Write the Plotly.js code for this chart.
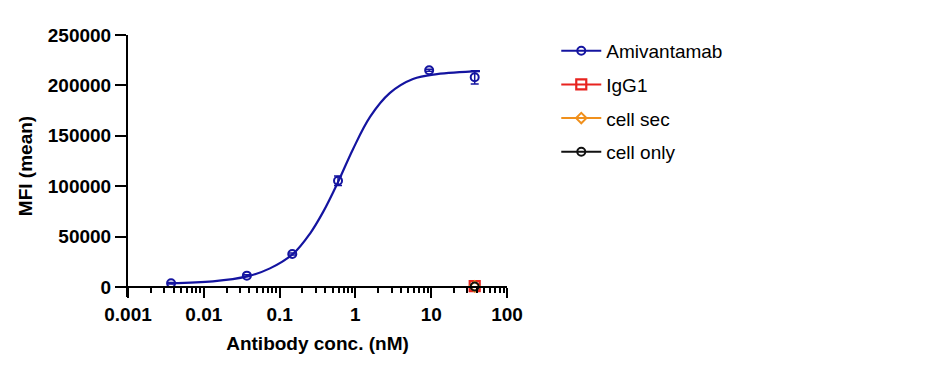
<!DOCTYPE html>
<html><head><meta charset="utf-8">
<script src="https://cdn.plot.ly/plotly-3.0.1.min.js"></script>
<style>html,body{margin:0;padding:0;background:#fff;overflow:hidden}</style>
</head><body>
<div id="chart" style="width:943px;height:366px"></div>
<script>
// ---- data ----
const amiConc = [0.0037, 0.037, 0.147, 0.59, 9.4, 37.5];
const amiMFI  = [3700, 11200, 32700, 105400, 215000, 208000];
const amiErr  = [800, 900, 1000, 4800, 1000, 6600];

// fitted curve
const fitConc = [0.0037, 0.0132, 0.0372, 0.0746, 0.150, 0.252, 0.374, 0.589, 0.929, 1.56, 2.86, 5.75, 11.9, 44];
const fitMFI  = [3700, 5500, 10400, 18400, 32700, 53000, 74200, 104000, 136700, 168700, 192500, 206300, 211100, 214100];

const igg1Conc = [37.5];     const igg1MFI = [700];
const cellSecConc = [37.5];  const cellSecMFI = [500];
const cellOnlyConc = [37.5]; const cellOnlyMFI = [400];

const seriesNames = ['Amivantamab', 'IgG1', 'cell sec', 'cell only'];
const xTickVals = [0.001, 0.01, 0.1, 1, 10, 100];
const xTickText = ['0.001', '0.01', '0.1', '1', '10', '100'];
const yTickVals = [0, 50000, 100000, 150000, 200000, 250000];
const yTickText = ['0', '50000', '100000', '150000', '200000', '250000'];

// ---- styling ----
const BLUE = '#1414a0', RED = '#e8231f', ORANGE = '#f0901c', BLACK = '#111111';
const FONT = 'Arial, "Liberation Sans", sans-serif';

// interleave nulls so the series keeps a legend line but draws no connecting segments
function gap(arr) { const o = []; arr.forEach((v, i) => { o.push(v); if (i < arr.length - 1) o.push(null); }); return o; }

const traces = [
  {
    x: fitConc, y: fitMFI, type: 'scatter', mode: 'lines', showlegend: false,
    line: { color: BLUE, width: 2.2, shape: 'spline', smoothing: 1 }, hoverinfo: 'skip'
  },
  {
    x: gap(amiConc), y: gap(amiMFI), type: 'scatter', mode: 'lines+markers', name: seriesNames[0],
    legendgroup: 'a', connectgaps: false,
    line: { color: BLUE, width: 2 },
    marker: { symbol: 'circle-open', size: 8, color: BLUE, line: { width: 2, color: BLUE } },
    error_y: { type: 'data', array: gap(amiErr), visible: true, color: BLUE, thickness: 1.5, width: 4 }
  },
  {
    x: igg1Conc, y: igg1MFI, type: 'scatter', mode: 'lines+markers', name: seriesNames[1], legendgroup: 'b',
    line: { color: RED, width: 2 },
    marker: { symbol: 'square-open', size: 10, color: RED, line: { width: 2.2, color: RED } }
  },
  {
    x: cellSecConc, y: cellSecMFI, type: 'scatter', mode: 'lines+markers', name: seriesNames[2], legendgroup: 'c',
    line: { color: ORANGE, width: 2 },
    marker: { symbol: 'diamond-open', size: 8, color: ORANGE, line: { width: 2, color: ORANGE } }
  },
  {
    x: cellOnlyConc, y: cellOnlyMFI, type: 'scatter', mode: 'lines+markers', name: seriesNames[3], legendgroup: 'd',
    line: { color: BLACK, width: 2 },
    marker: { symbol: 'circle-open', size: 8, color: BLACK, line: { width: 2, color: BLACK } }
  }
];

const layout = {
  width: 943, height: 366,
  margin: { l: 128, r: 436, t: 35, b: 69, pad: 0 },
  paper_bgcolor: '#fff', plot_bgcolor: '#fff',
  font: { family: FONT, color: '#000' },
  showlegend: true,
  legend: {
    x: 1.13, xanchor: 'left', y: 1.012, yanchor: 'top',
    font: { family: FONT, size: 19, color: '#000' },
    traceorder: 'grouped', tracegroupgap: 6, itemwidth: 40, bgcolor: 'rgba(0,0,0,0)'
  },
  xaxis: {
    type: 'log', range: [-3, 2], anchor: 'free', position: 10000 / 260000,
    tickmode: 'array', tickvals: xTickVals, ticktext: xTickText,
    ticks: 'outside', ticklen: 10, tickwidth: 2, tickcolor: '#000',
    showline: true, linecolor: '#000', linewidth: 2, showgrid: false, zeroline: false,
    tickfont: { family: FONT, size: 19, weight: 700, color: '#000' },
    minor: { ticks: 'outside', ticklen: 5, tickwidth: 2, tickcolor: '#000', showgrid: false, dtick: 'D1' },
    title: { text: 'Antibody conc. (nM)', font: { family: FONT, size: 19, weight: 700, color: '#000' }, standoff: 12 }
  },
  yaxis: {
    range: [-10000, 250000],
    tickmode: 'array', tickvals: yTickVals, ticktext: yTickText,
    ticks: 'outside', ticklen: 11, tickwidth: 2, tickcolor: '#000',
    showline: true, linecolor: '#000', linewidth: 2, showgrid: false, zeroline: false,
    tickfont: { family: FONT, size: 19, weight: 700, color: '#000' },
    title: { text: 'MFI (mean)', font: { family: FONT, size: 19, weight: 700, color: '#000' }, standoff: 10 }
  }
};

Plotly.newPlot('chart', traces, layout, { displayModeBar: false, staticPlot: true });
</script>
</body></html>
